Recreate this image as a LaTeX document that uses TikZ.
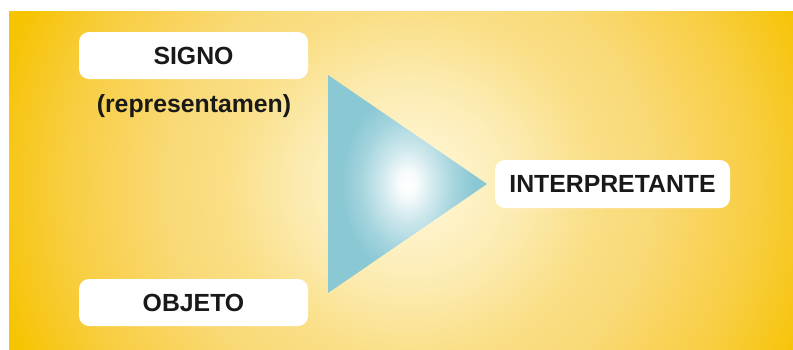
\documentclass[tikz,border=0pt]{standalone}
\usepackage{fontspec}
\setmainfont{Liberation Sans}
\definecolor{triB}{RGB}{138,200,212}
\pgfdeclareradialshading{bgshade}{\pgfpoint{0bp}{0bp}}{color(0bp)=(rgb,255:red,255;green,249;blue,228); color(3bp)=(rgb,255:red,254;green,242;blue,200); color(6.5bp)=(rgb,255:red,252;green,235;blue,176); color(11bp)=(rgb,255:red,250;green,222;blue,132); color(14bp)=(rgb,255:red,249;green,218;blue,120); color(17bp)=(rgb,255:red,249;green,211;blue,92); color(20bp)=(rgb,255:red,248;green,206;blue,66); color(23bp)=(rgb,255:red,247;green,199;blue,28); color(25bp)=(rgb,255:red,246;green,196;blue,0); color(50bp)=(rgb,255:red,246;green,196;blue,0)}
\pgfdeclareradialshading{trishade}{\pgfpoint{0bp}{0bp}}{color(0bp)=(white); color(3bp)=(white!93!triB); color(8bp)=(triB!40!white); color(15bp)=(triB!78!white); color(21bp)=(triB); color(50bp)=(triB)}
\tikzset{
  labelbox/.style={fill=white, rounded corners=10pt, draw=none, font=\bfseries\fontsize{24.8}{30}\selectfont, text=black!90, inner sep=0pt},
  plain/.style={font=\bfseries\fontsize{24.8}{30}\selectfont, text=black!90, inner sep=0pt}
}
\begin{document}
\begin{tikzpicture}[x=1pt,y=-1pt]
\useasboundingbox (0,0) rectangle (793,349);
\fill[white] (0,0) rectangle (793,349);
\begin{scope}
\clip (9,11) rectangle (793,349);
\shade[shading=bgshade] (410-430,185-400) rectangle (410+430,185+400);
\end{scope}
\shade[shading=trishade] (328,75) -- (487,184) -- (328,293) -- cycle;
\node[labelbox, minimum width=229pt, minimum height=47pt] (signo) at (193.5,55.5) {SIGNO};
\node[plain] (repr) at (194,106) {(representamen)};
\node[labelbox, minimum width=229pt, minimum height=47pt] (objeto) at (193.5,302.5) {OBJETO};
\node[labelbox, minimum width=235pt, minimum height=48pt] (interp) at (612.5,184) {INTERPRETANTE};
\end{tikzpicture}
\end{document}
